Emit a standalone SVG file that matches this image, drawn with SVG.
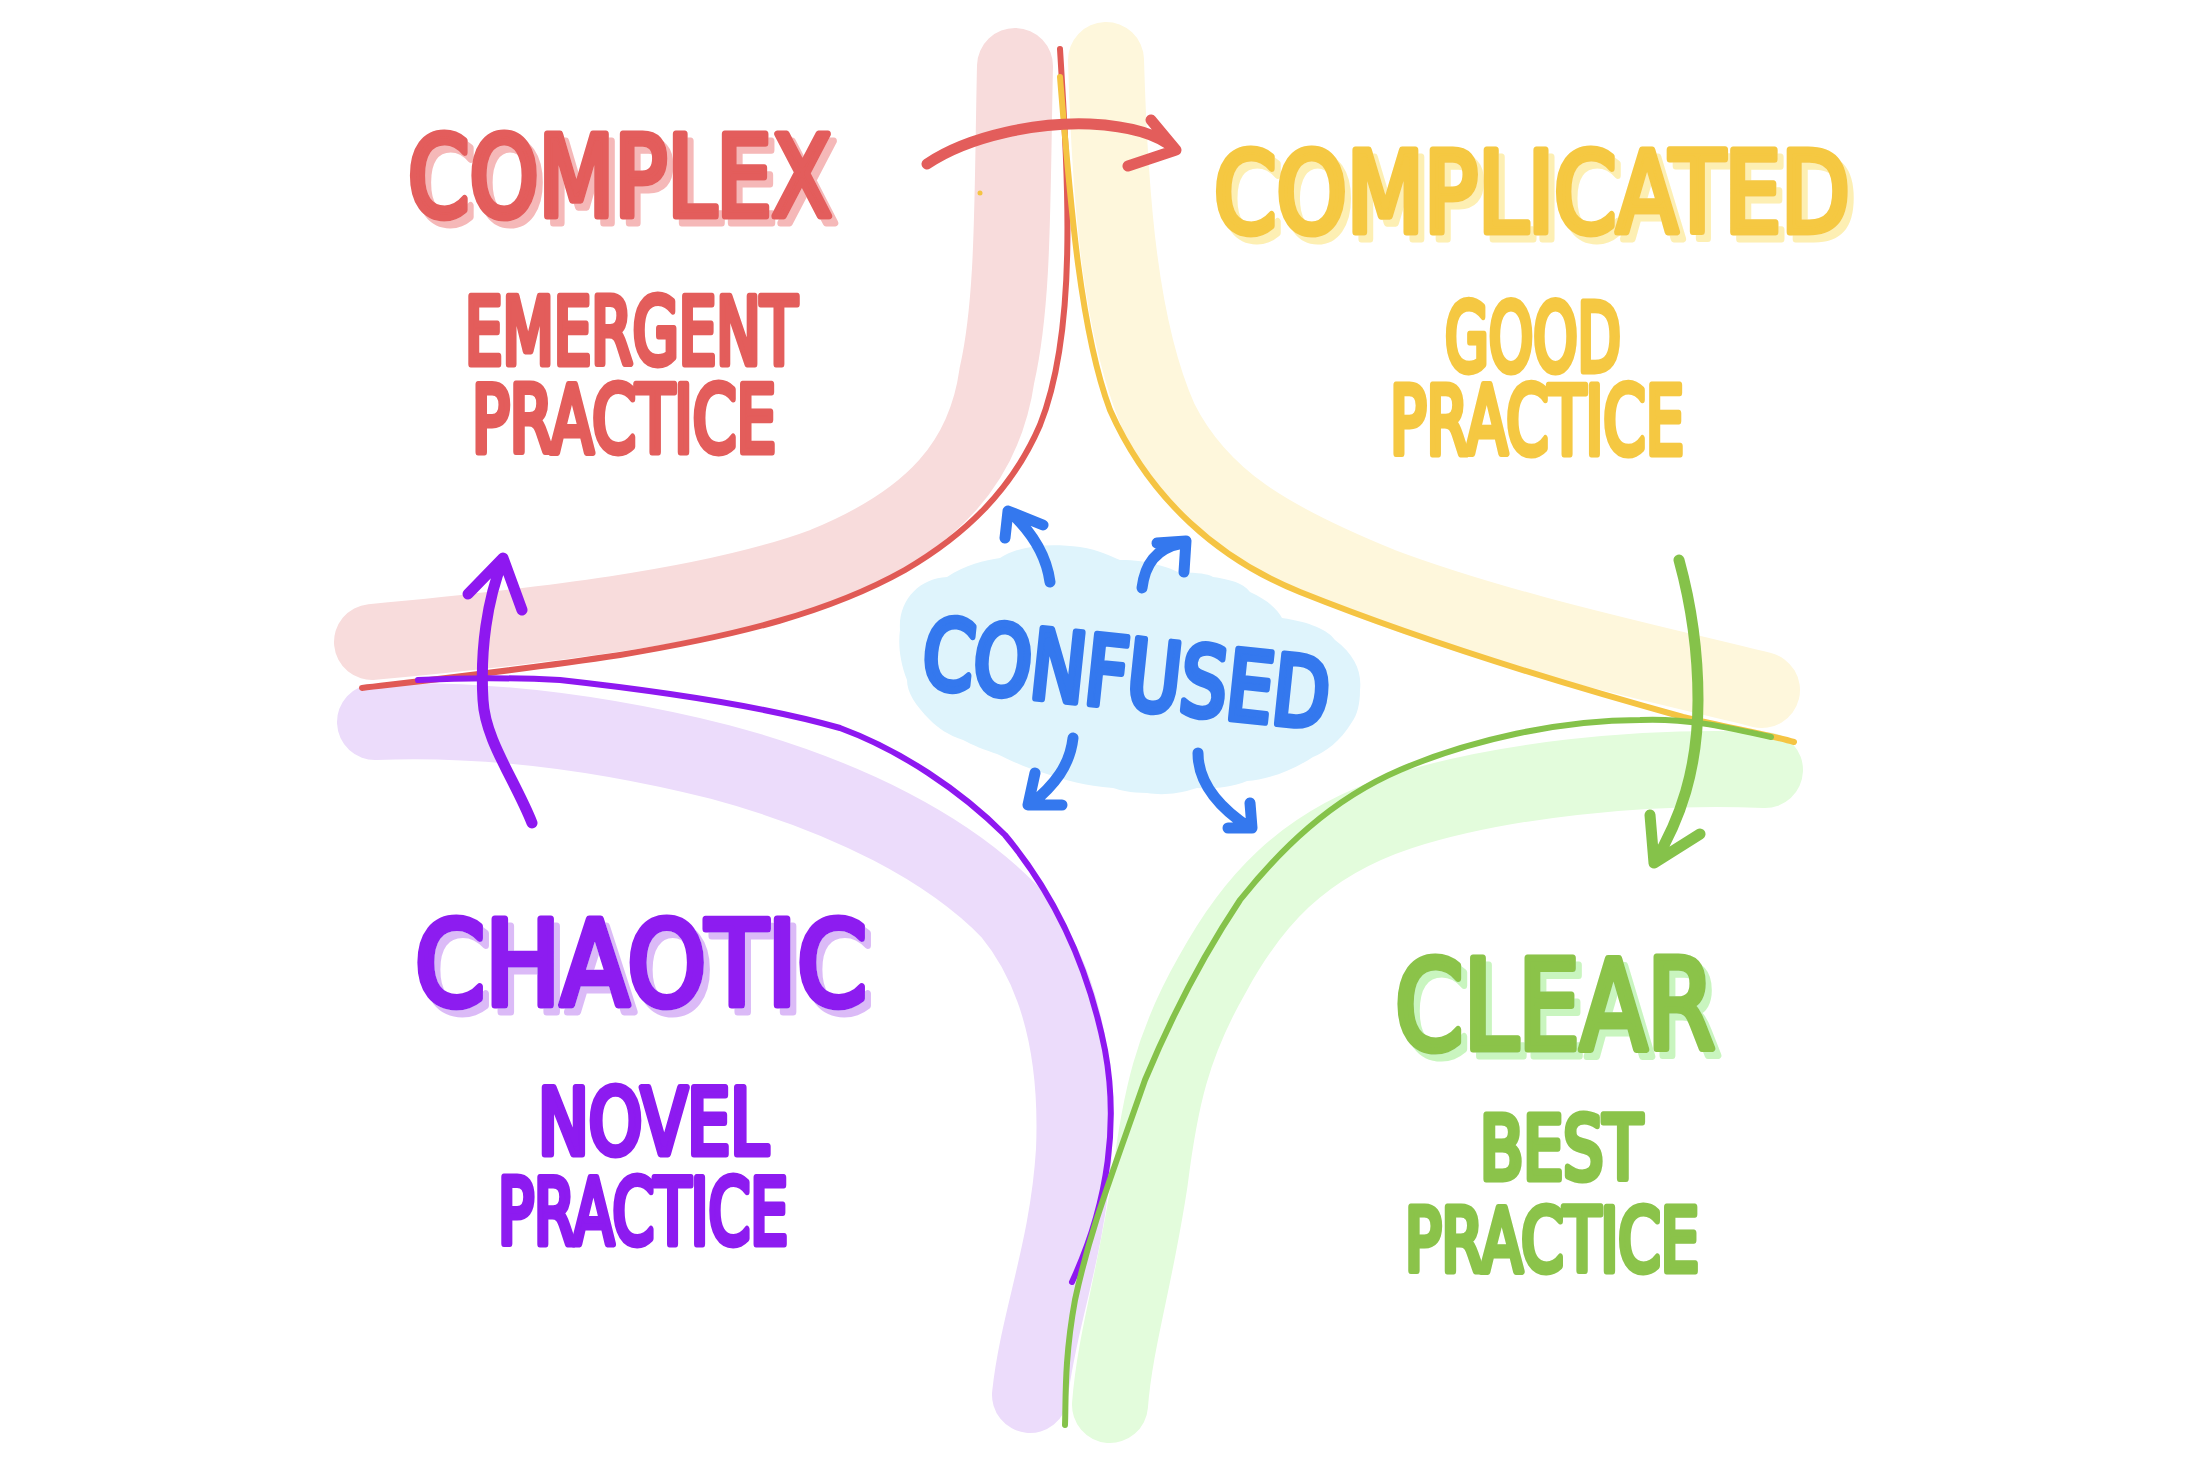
<svg xmlns="http://www.w3.org/2000/svg" width="2196" height="1470" viewBox="0 0 2196 1470">
<defs>
<filter id="shR" x="-10%" y="-20%" width="130%" height="150%"><feFlood flood-color="#f5b8b8"/><feComposite in2="SourceAlpha" operator="in"/><feOffset dx="6" dy="7" result="s"/><feMerge><feMergeNode in="s"/><feMergeNode in="SourceGraphic"/></feMerge></filter>
<filter id="shY" x="-10%" y="-20%" width="130%" height="150%"><feFlood flood-color="#fdefb3"/><feComposite in2="SourceAlpha" operator="in"/><feOffset dx="6" dy="7" result="s"/><feMerge><feMergeNode in="s"/><feMergeNode in="SourceGraphic"/></feMerge></filter>
<filter id="shP" x="-10%" y="-20%" width="130%" height="150%"><feFlood flood-color="#dbbaf7"/><feComposite in2="SourceAlpha" operator="in"/><feOffset dx="6" dy="7" result="s"/><feMerge><feMergeNode in="s"/><feMergeNode in="SourceGraphic"/></feMerge></filter>
<filter id="shG" x="-10%" y="-20%" width="130%" height="150%"><feFlood flood-color="#c9f5bf"/><feComposite in2="SourceAlpha" operator="in"/><feOffset dx="6" dy="7" result="s"/><feMerge><feMergeNode in="s"/><feMergeNode in="SourceGraphic"/></feMerge></filter>
</defs>
<style>
.band{fill:none;stroke-width:76;stroke-linecap:round;stroke-linejoin:round}
.line{fill:none;stroke-width:6;stroke-linecap:round;stroke-linejoin:round}
.arr{fill:none;stroke-width:11;stroke-linecap:round;stroke-linejoin:round}
.t{font-family:"DejaVu Sans Condensed","DejaVu Sans",sans-serif;font-weight:normal;stroke-width:7;stroke-linejoin:round;stroke-linecap:round}
.red{fill:#e35d5b;stroke:#e35d5b}
.yel{fill:#f5c842;stroke:#f5c842}
.pur{fill:#8d1bf0;stroke:#8d1bf0}
.grn{fill:#8bc34a;stroke:#8bc34a}
.blu{fill:#3478ee;stroke:#3478ee}
</style>
<rect width="2196" height="1470" fill="#ffffff"/>
<g id="boundaries">
<path class="band" stroke="#f8dcdc" d="M1015,66 C1012,200 1014,300 997,375 C985,460 935,520 825,565 C710,608 530,627 372,642"/>
<path class="band" stroke="#fef7dc" d="M1106,60 C1110,200 1120,330 1160,420 C1200,500 1270,540 1380,585 C1500,630 1640,660 1762,690"/>
<path class="band" stroke="#ecdcfb" d="M375,722 C500,717 620,737 720,762 C850,797 950,850 1010,912 C1058,970 1078,1050 1074,1150 C1068,1250 1038,1320 1030,1395"/>
<path class="band" stroke="#e3fcdc" d="M1765,770 C1640,765 1500,780 1400,812 C1300,845 1250,905 1212,975 C1172,1045 1160,1100 1150,1180 C1135,1280 1115,1340 1110,1405"/>
<path class="line" stroke="#e05a55" d="M1060,49 C1068,180 1078,330 1040,425 C1012,490 965,535 905,570 C830,612 740,635 620,655 C520,670 430,680 362,688"/>
<path class="line" stroke="#f5c443" d="M1060,77 C1070,200 1080,330 1110,410 C1150,500 1220,560 1300,592 C1420,640 1560,683 1683,717 C1730,728 1770,735 1794,742"/>
<path class="line" stroke="#8e18f0" d="M418,680 C480,677 520,678 560,680 C650,690 760,705 840,728 C900,750 960,790 1005,835 C1055,895 1088,965 1105,1050 C1118,1120 1110,1200 1072,1282"/>
<path class="line" stroke="#85c24a" d="M1771,737 C1730,728 1690,718 1640,720 C1560,720 1470,740 1400,770 C1330,800 1280,850 1240,900 C1200,960 1170,1020 1145,1080 C1110,1180 1090,1230 1075,1300 C1064,1360 1066,1400 1065,1425"/>
<circle cx="980" cy="193" r="2.5" fill="#f5c443"/>
</g>
<g id="confused">
<path fill="#dff4fc" d="M900,630 C898,600 920,578 947,577 C965,565 985,560 1000,558 C1020,545 1050,543 1080,547 C1100,550 1110,556 1120,560 C1150,560 1170,568 1180,573 C1200,572 1210,575 1213,577 C1235,580 1245,585 1250,592 C1268,600 1278,610 1282,618 C1310,622 1328,630 1335,640 C1355,655 1362,672 1360,690 C1360,705 1357,715 1352,722 C1340,742 1325,752 1313,757 C1290,772 1265,780 1247,781 C1230,788 1210,789 1197,788 C1175,795 1160,795 1147,793 C1130,793 1120,790 1113,788 C1085,786 1065,780 1047,774 C1025,768 1010,760 997,754 C985,750 972,745 963,740 C948,735 938,728 930,720 C915,705 907,692 907,680 C900,662 898,645 900,630 Z"/>
<text class="t blu" x="920" y="686" font-size="96" stroke-width="9" textLength="408" lengthAdjust="spacingAndGlyphs" transform="rotate(6 920 686)">CONFUSED</text>
</g>
<g id="complex">
<text class="t red" x="408" y="216" font-size="112" stroke-width="9" textLength="424" lengthAdjust="spacingAndGlyphs" filter="url(#shR)">COMPLEX</text>
<text class="t red" font-size="92"><tspan x="465" y="364" textLength="332" lengthAdjust="spacingAndGlyphs">EMERGENT</tspan><tspan x="472" y="452" textLength="304" lengthAdjust="spacingAndGlyphs">PRACTICE</tspan></text>
</g>
<g id="complicated">
<text class="t yel" x="1214" y="232" font-size="112" stroke-width="9" textLength="636" lengthAdjust="spacingAndGlyphs" filter="url(#shY)">COMPLICATED</text>
<text class="t yel" font-size="94"><tspan x="1445" y="371" textLength="176" lengthAdjust="spacingAndGlyphs">GOOD</tspan><tspan x="1390" y="454" textLength="294" lengthAdjust="spacingAndGlyphs">PRACTICE</tspan></text>
</g>
<g id="chaotic">
<text class="t pur" x="415" y="1005" font-size="118" stroke-width="9" textLength="452" lengthAdjust="spacingAndGlyphs" filter="url(#shP)">CHAOTIC</text>
<text class="t pur" font-size="90"><tspan x="538" y="1154" textLength="230" lengthAdjust="spacingAndGlyphs">NOVEL</tspan><tspan x="498" y="1244" textLength="290" lengthAdjust="spacingAndGlyphs">PRACTICE</tspan></text>
</g>
<g id="clear">
<text class="t grn" x="1395" y="1049" font-size="124" stroke-width="9" textLength="320" lengthAdjust="spacingAndGlyphs" filter="url(#shG)">CLEAR</text>
<text class="t grn" font-size="88"><tspan x="1480" y="1179" textLength="162" lengthAdjust="spacingAndGlyphs">BEST</tspan><tspan x="1405" y="1271" textLength="294" lengthAdjust="spacingAndGlyphs">PRACTICE</tspan></text>
</g>
<g id="connectors">
<path class="arr" stroke="#e35d5b" d="M927,164 C970,135 1040,122 1090,124 C1130,126 1160,135 1176,150 M1151,120 L1176,150 L1128,166"/>
<path class="arr" stroke="#8e18f0" d="M532,823 C515,780 485,740 483,700 C480,650 487,600 503,560 M468,594 L503,558 L522,610"/>
<path class="arr" stroke="#85c24a" d="M1679,560 C1690,600 1698,650 1698,700 C1698,770 1680,820 1654,863 M1650,815 L1654,863 L1700,834"/>
<path class="arr" stroke="#3478ee" d="M1050,582 C1047,560 1035,535 1010,512 M1005,538 L1008,511 L1043,525"/>
<path class="arr" stroke="#3478ee" d="M1142,588 C1145,565 1155,548 1183,543 M1157,543 L1186,541 L1184,572"/>
<path class="arr" stroke="#3478ee" d="M1073,738 C1070,765 1055,785 1030,805 M1035,773 L1028,805 L1062,805"/>
<path class="arr" stroke="#3478ee" d="M1198,753 C1198,780 1215,805 1250,828 M1228,828 L1252,828 L1250,803"/>
</g>
</svg>
